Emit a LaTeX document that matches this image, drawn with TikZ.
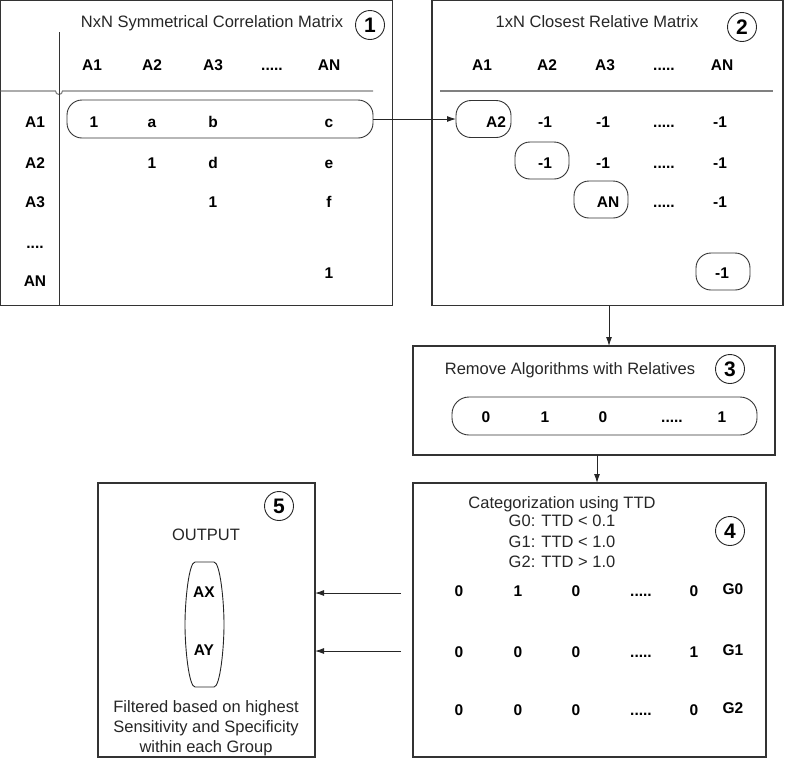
\documentclass[tikz,border=0pt]{standalone}
\usepackage{fontspec}
\setmainfont{Liberation Sans}
\usetikzlibrary{arrows.meta}
\newcommand{\fivedots}{.....}
\newcommand{\fourdots}{....}
\begin{document}
\begin{tikzpicture}[x=1pt,y=-1pt,
  box/.style={draw=black!80, line width=1.1pt, inner sep=0, outer sep=0},
  pill/.style={draw=black!80, line width=0.9pt, rounded corners=15pt, inner sep=0, outer sep=0},
  lab/.style={font=\fontsize{15.5}{15.5}\selectfont\bfseries, inner sep=0, text height=11pt, text depth=0pt},
  txt/.style={font=\fontsize{16.5}{16.5}\selectfont, text=black!85, inner sep=0, text height=11.8pt, text depth=0pt},
  num/.style={draw=black!85, circle, line width=0.9pt, minimum size=29pt, inner sep=0, font=\fontsize{21}{21}\selectfont\bfseries},
  arr/.style={-{Latex[length=9pt,width=6pt]}, line width=0.9pt, draw=black!85},
  gline/.style={draw=black!50, line width=1.1pt}]
\useasboundingbox (0,0) rectangle (786,758);

% ---------- Box 1 ----------
\node[box, minimum width=392pt, minimum height=305pt] (b1) at (196.7,153) {};
\node[txt] (t1) at (212,22) {NxN Symmetrical Correlation Matrix};
\node[num] (n1) at (370,25) {1};
\draw[gline] (0.6,91) -- (55.5,91) arc[start angle=180,end angle=0,radius=3.5] -- (373,91);
\draw[draw=black!80, line width=1pt] (59,32) -- (59,305);
\foreach \t/\x [count=\i] in {A1/92,A2/152,A3/213,\fivedots/272,AN/329}
  \node[lab] (h1\i) at (\x,65) {\t};
\foreach \t/\y [count=\i] in {A1/122,A2/163,A3/202,\fourdots/243,AN/281}
  \node[lab] (r1\i) at (35,\y) {\t};
\node[pill, minimum width=306pt, minimum height=38pt] (row1) at (220,119) {};
\node[lab] (c11) at (94,122) {1};
\node[lab] (c12) at (152,122) {a};
\node[lab] (c13) at (213,122) {b};
\node[lab] (c15) at (329,122) {c};
\node[lab] (c22) at (152,163) {1};
\node[lab] (c23) at (213,163) {d};
\node[lab] (c25) at (329,163) {e};
\node[lab] (c33) at (213,202) {1};
\node[lab] (c35) at (329,202) {f};
\node[lab] (c55) at (329,273) {1};

% ---------- Box 2 ----------
\node[box, minimum width=351pt, minimum height=305pt] (b2) at (607.5,153) {};
\node[txt] (t2) at (597,22) {1xN Closest Relative Matrix};
\node[num] (n2) at (742,27) {2};
\foreach \t/\x [count=\i] in {A1/482,A2/547,A3/605,\fivedots/664,AN/722}
  \node[lab] (h2\i) at (\x,65) {\t};
\draw[gline] (440,91) -- (773,91);
\node[pill, minimum width=55pt, minimum height=37pt] (p1) at (483.5,119) {};
\node[pill, minimum width=54pt, minimum height=37pt] (p2) at (542,160.5) {};
\node[pill, minimum width=54pt, minimum height=37pt] (p3) at (601,199.5) {};
\node[pill, minimum width=54pt, minimum height=37pt] (p4) at (723,271.5) {};
\node[lab] (d11) at (496,122) {A2};
\node[lab] (d12) at (545,122) {-1};
\node[lab] (d13) at (603,122) {-1};
\node[lab] (d14) at (664,122) {\fivedots};
\node[lab] (d15) at (720,122) {-1};
\node[lab] (d22) at (545,163) {-1};
\node[lab] (d23) at (603,163) {-1};
\node[lab] (d24) at (664,163) {\fivedots};
\node[lab] (d25) at (720,163) {-1};
\node[lab] (d33) at (608,202) {AN};
\node[lab] (d34) at (664,202) {\fivedots};
\node[lab] (d35) at (720,202) {-1};
\node[lab] (d45) at (722,273) {-1};

% ---------- Box 3 ----------
\node[box, minimum width=362pt, minimum height=109pt] (b3) at (594,400.5) {};
\node[txt] (t3) at (570,369) {Remove Algorithms with Relatives};
\node[num] (n3) at (730,369) {3};
\node[pill, minimum width=305pt, minimum height=38pt, rounded corners=17pt] (bar) at (604.5,416) {};
\foreach \t/\x [count=\i] in {0/486,1/545,0/603,\fivedots/672,1/722}
  \node[lab] (e\i) at (\x,417) {\t};

% ---------- Box 4 ----------
\node[box, minimum width=353pt, minimum height=274pt] (b4) at (589.5,620) {};
\node[txt] (t4a) at (562,503) {Categorization using TTD};
\node[txt] (t4b) at (562,521) {G0: TTD < 0.1};
\node[txt] (t4c) at (562,542) {G1: TTD < 1.0};
\node[txt] (t4d) at (562,562) {G2: TTD > 1.0};
\node[num] (n4) at (730,531) {4};
\foreach \a/\b/\c/\d/\g/\y [count=\j] in {0/1/0/0/G0/591,0/0/0/1/G1/652,0/0/0/0/G2/710}{
  \node[lab] (f\j a) at (459,\y) {\a};
  \node[lab] (f\j b) at (518,\y) {\b};
  \node[lab] (f\j c) at (576,\y) {\c};
  \node[lab] (f\j d) at (641,\y) {\fivedots};
  \node[lab] (f\j e) at (694,\y) {\d};
  \node[lab] (f\j g) at (733,\y-2) {\g};
}

% ---------- Box 5 ----------
\node[box, minimum width=217pt, minimum height=274pt] (b5) at (206.5,620) {};
\node[num] (n5) at (279,506) {5};
\node[txt] (out) at (206,535) {OUTPUT};
\draw[draw=black!85, line width=0.9pt] (195,562) -- (214,562)
  .. controls (220,562) and (224,600) .. (224,624.5)
  .. controls (224,649) and (220,687) .. (214,687) -- (195,687)
  .. controls (189,687) and (185,649) .. (185,624.5)
  .. controls (185,600) and (189,562) .. (195,562) -- cycle;
\node[lab] (ax) at (204,592) {AX};
\node[lab] (ay) at (204,650) {AY};
\node[txt] (l1) at (206,707) {Filtered based on highest};
\node[txt] (l2) at (206,727) {Sensitivity and Specificity};
\node[txt] (l3) at (206,747) {within each Group};

% ---------- Connectors ----------
\draw[arr] (row1.east) -- (p1.west |- row1.east);
\draw[arr] ([xshift=1.5pt]b2.south) -- ([xshift=1.5pt]b2.south |- b3.north);
\draw[arr] ([xshift=3pt]b3.south) -- ([xshift=3pt]b3.south |- b4.north);
\coordinate (s1) at (401,593);
\coordinate (s2) at (401,651);
\draw[arr] (s1) -- (b5.east |- s1);
\draw[arr] (s2) -- (b5.east |- s2);
\end{tikzpicture}
\end{document}
